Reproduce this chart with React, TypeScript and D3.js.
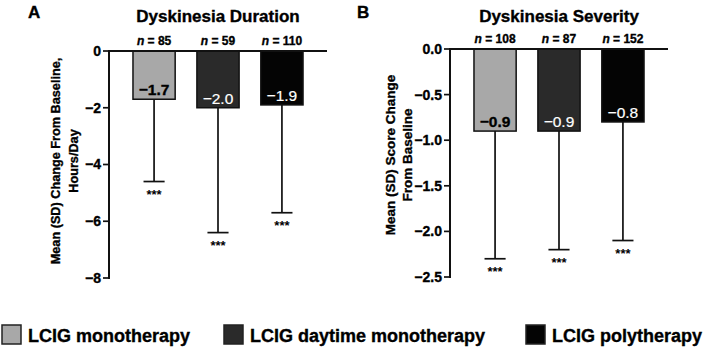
import React from 'react';
import * as d3 from 'd3';

const groups = ['LCIG monotherapy', 'LCIG daytime monotherapy', 'LCIG polytherapy'];
const colors = ['#a8a8a8', '#2a2a2a', '#040404'];
const labelColors = ['#000', '#fff', '#fff'];
const labelWeights = ['bold', 'normal', 'normal'];

// panel A: dyskinesia duration (hours/day)
const durationN = [85, 59, 110];
const durationMean = [-1.7, -2.0, -1.9];
const durationSD = [2.9, 4.4, 3.8];
const durationTicks = [0, -2, -4, -6, -8];

// panel B: dyskinesia severity (score)
const severityN = [108, 87, 152];
const severityMean = [-0.9, -0.9, -0.8];
const severitySD = [1.4, 1.3, 1.3];
const severityTicks = [0, -0.5, -1.0, -1.5, -2.0, -2.5];

const FONT = '"Liberation Sans", Arial, Helvetica, sans-serif';
const minus = (s: string) => s.replace('-', '\u2212');
// slight outline so the bold text reads heavier
const heavy = { stroke: '#000', strokeWidth: 0.35 };

type PanelProps = {
  letter: string;
  letterX: number;
  title: string;
  x0: number;
  x1: number;
  y0: number;
  y1: number;
  domainMin: number;
  ticks: number[];
  tickFmt: (v: number) => string;
  valFmt: (v: number) => string;
  n: number[];
  mean: number[];
  sd: number[];
  yLabel: string[];
  yLabelX: number[];
  yLabelY: number;
  yLabelSize: number;
};

function Panel(p: PanelProps) {
  const x = d3.scaleBand<string>().domain(groups).range([p.x0, p.x1]).paddingInner(0.34).paddingOuter(0.375);
  const y = d3.scaleLinear().domain([0, p.domainMin]).range([p.y0, p.y1]);
  const bw = x.bandwidth();
  const mid = (p.x0 + p.x1) / 2;

  return (
    <g>
      <text x={p.letterX} y={18} fontSize={17} fontWeight="bold" {...heavy}>{p.letter}</text>
      <text x={mid} y={22} fontSize={17} fontWeight="bold" textAnchor="middle" {...heavy}>{p.title}</text>

      {/* y axis label */}
      {p.yLabel.map((line, i) => (
        <text key={line} transform={`translate(${p.yLabelX[i]},${p.yLabelY}) rotate(-90)`}
          fontSize={p.yLabelSize} fontWeight="bold" textAnchor="middle" dy="0.35em" {...heavy}>{line}</text>
      ))}

      {/* bars */}
      {groups.map((g, i) => {
        const bx = x(g)!;
        const cx = bx + bw / 2;
        const yBottom = y(p.mean[i]);
        const yErr = y(p.mean[i] - p.sd[i]);
        return (
          <g key={g}>
            <rect x={bx} y={y(0)} width={bw} height={yBottom - y(0)} fill={colors[i]} stroke="#111" strokeWidth={1.5} />
            <line x1={cx} x2={cx} y1={yBottom} y2={yErr} stroke="#111" strokeWidth={1.7} />
            <line x1={cx - bw / 4} x2={cx + bw / 4} y1={yErr} y2={yErr} stroke="#111" strokeWidth={1.7} />
            <text x={cx} y={yErr + 17} fontSize={13} fontWeight="bold" textAnchor="middle">***</text>
            <text x={cx} y={yBottom - 4} fontSize={15.5} fontWeight={labelWeights[i]} fill={labelColors[i]}
              stroke={labelColors[i]} strokeWidth={i === 0 ? 0.35 : 0.2}
              textAnchor="middle">{p.valFmt(p.mean[i])}</text>
            <text x={cx} y={p.y0 - 6} fontSize={12} fontWeight="bold" textAnchor="middle" {...heavy}>
              <tspan fontStyle="italic">n</tspan> = {p.n[i]}
            </text>
          </g>
        );
      })}

      {/* axes */}
      <line x1={p.x0} x2={p.x1} y1={p.y0} y2={p.y0} stroke="#111" strokeWidth={2} />
      <line x1={p.x0} x2={p.x0} y1={p.y0 - 1} y2={p.y1 + 1} stroke="#111" strokeWidth={2} />
      {p.ticks.map(t => (
        <g key={t} transform={`translate(0,${y(t)})`}>
          <line x1={p.x0 - 6} x2={p.x0} stroke="#111" strokeWidth={1.7} />
          <text x={p.x0 - 8} dy="0.35em" fontSize={14} fontWeight="bold" textAnchor="end" {...heavy}>{p.tickFmt(t)}</text>
        </g>
      ))}
    </g>
  );
}

export default function App() {
  const legendX = [2, 224, 526];
  return (
    <svg width={709} height={349} style={{ position: 'absolute', left: 0, top: 0, background: '#fff' }}
      fontFamily={FONT}>
      <Panel letter="A" letterX={28} title="Dyskinesia Duration"
        x0={109} x1={327} y0={51} y1={278} domainMin={-8}
        ticks={durationTicks} tickFmt={v => minus(d3.format('d')(v))} valFmt={v => minus(d3.format('.1f')(v))}
        n={durationN} mean={durationMean} sd={durationSD}
        yLabel={['Mean (SD) Change From Baseline,', 'Hours/Day']} yLabelX={[56, 74]} yLabelY={161} yLabelSize={12.7} />
      <Panel letter="B" letterX={357} title="Dyskinesia Severity"
        x0={450} x1={668} y0={49} y1={277} domainMin={-2.5}
        ticks={severityTicks} tickFmt={v => minus(d3.format('.1f')(v))} valFmt={v => minus(d3.format('.1f')(v))}
        n={severityN} mean={severityMean} sd={severitySD}
        yLabel={['Mean (SD) Score Change', 'From Baseline']} yLabelX={[390, 407]} yLabelY={155} yLabelSize={13.5} />

      {/* legend */}
      {groups.map((g, i) => (
        <g key={g} transform={`translate(${legendX[i]},325)`}>
          <rect x={0} y={0} width={19} height={19} fill={colors[i]} stroke="#222" strokeWidth={1.5} />
          <text x={26} y={17} fontSize={18} fontWeight="bold" {...heavy}>{g}</text>
        </g>
      ))}
    </svg>
  );
}
